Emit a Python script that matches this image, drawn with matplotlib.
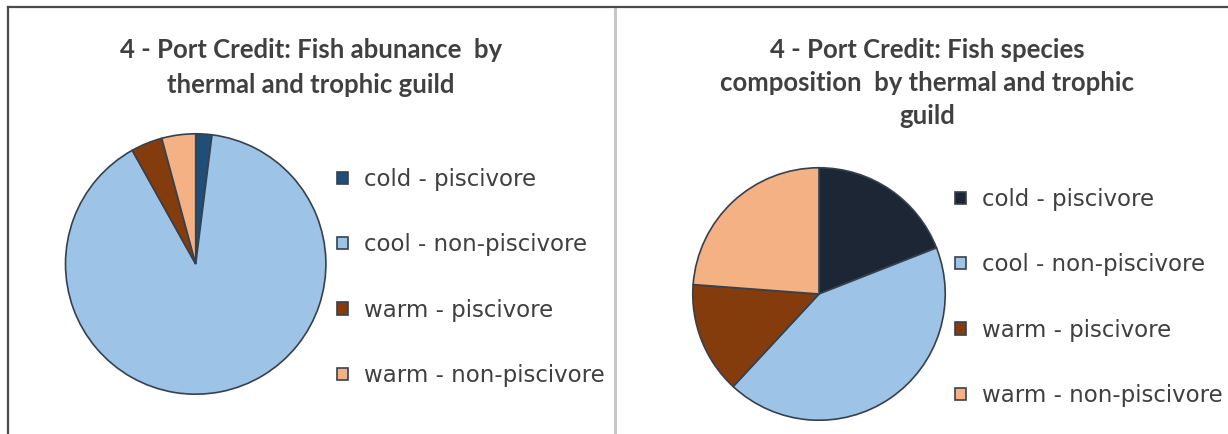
import matplotlib
matplotlib.use("Agg")
import matplotlib.pyplot as plt
from matplotlib.lines import Line2D
from matplotlib.patches import Rectangle

guilds = ["cold - piscivore", "cool - non-piscivore", "warm - piscivore", "warm - non-piscivore"]
abundance_pct = [2.0, 89.9, 3.9, 4.2]
species_count = [4, 9, 3, 5]

abundance_colors = ["#1f4e79", "#9dc3e6", "#843c0c", "#f4b183"]
species_colors = ["#1c2634", "#9dc3e6", "#843c0c", "#f4b183"]

title_left = ["4 - Port Credit: Fish abunance  by", "thermal and trophic guild"]
title_right = ["4 - Port Credit: Fish species", "composition  by thermal and trophic", "guild"]

W, H = 1228, 434
fig = plt.figure(figsize=(W / 100, H / 100), dpi=100)
fig.patch.set_facecolor("white")

text_col = "#404040"


def px_axes(cx, cy, r):
    # axes box given in pixel coords (origin top-left)
    return fig.add_axes([(cx - r) / W, (H - cy - r) / H, 2 * r / W, 2 * r / H])


def draw_pie(cx, cy, r, values, colors, leg_x, leg_y):
    ax = px_axes(cx, cy, r)
    wedges, _ = ax.pie(values, colors=colors, startangle=90, counterclock=False,
                       radius=1.0, wedgeprops=dict(edgecolor="#36414f", linewidth=1.2))
    ax.set_xlim(-1.01, 1.01)
    ax.set_ylim(-1.01, 1.01)
    ax.set_aspect("equal")
    ax.axis("off")
    leg = fig.legend(wedges, guilds, loc="upper left",
                     bbox_to_anchor=(leg_x / W, 1 - leg_y / H),
                     frameon=False, borderpad=0, borderaxespad=0,
                     handlelength=0.46, handleheight=0.46, handletextpad=0.7,
                     labelspacing=1.85, prop=dict(family="DejaVu Sans", size=16.5))
    for t in leg.get_texts():
        t.set_color(text_col)
    return ax


draw_pie(195.7, 264, 131.5, abundance_pct, abundance_colors, 337, 168)
draw_pie(819, 294, 127.5, species_count, species_colors, 955, 188)

for i, line in enumerate(title_left):
    fig.text(311 / W, 1 - (50 + 35 * i) / H, line, ha="center", va="center",
             fontsize=18.5, fontweight="bold", color=text_col, family="Lato")
for i, line in enumerate(title_right):
    fig.text(927 / W, 1 - (50 + 33 * i) / H, line, ha="center", va="center",
             fontsize=18.5, fontweight="bold", color=text_col, family="Lato")

# frame lines of the screenshot
fig.add_artist(Line2D([8 / W, 1], [1 - 7 / H, 1 - 7 / H], color="#4a4a4a", lw=1.6))
fig.add_artist(Line2D([8 / W, 8 / W], [0, 1 - 7 / H], color="#4a4a4a", lw=1.6))
fig.add_artist(Rectangle((614.5 / W, 0), 3 / W, 1 - 8 / H, color="#c6c6c6", lw=0))

fig.savefig("out.png", dpi=100, facecolor="white")
